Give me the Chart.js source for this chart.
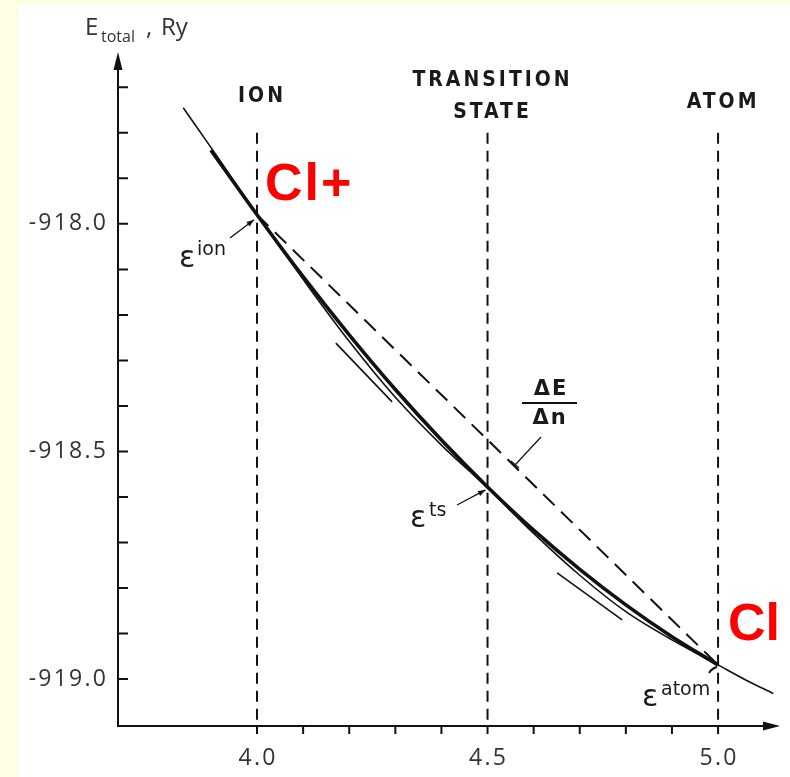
<!DOCTYPE html>
<html>
<head>
<meta charset="utf-8">
<script src="https://cdn.jsdelivr.net/npm/chart.js@4.4.1/dist/chart.umd.min.js"></script>
<style>
  html, body { margin: 0; padding: 0; background: #fefee4; }
  #wrap { width: 790px; height: 777px; }
</style>
</head>
<body>
<div id="wrap"><canvas id="grafico" width="790" height="777"></canvas></div>
<script>
// occupation number n (x) and total energy in Ry (y)
const nCurva = [3.84, 3.9, 4.0, 4.1, 4.2, 4.3, 4.4, 4.5, 4.6, 4.7, 4.8, 4.9, 5.0, 5.06, 5.12]
const eCurva = [-917.745, -917.832, -917.98, -918.122, -918.258, -918.381, -918.486, -918.58, -918.68, -918.772, -918.852, -918.914, -918.969, -919.002, -919.032]

const nGruesa = [3.9, 4.0, 4.1, 4.2, 4.3, 4.4, 4.5, 4.6, 4.7, 4.8, 4.9, 5.0]
const eGruesa = [-917.838, -917.98, -918.116, -918.244, -918.364, -918.475, -918.578, -918.673, -918.759, -918.837, -918.907, -918.969]

// chord from ion to atom (dashed)
const nCuerda = [4.0, 5.0]
const eCuerda = [-917.98, -918.969]

// short tangent strokes
const nTang1 = [4.171, 4.293]
const eTang1 = [-918.262, -918.391]
const nTang2 = [4.651, 4.792]
const eTang2 = [-918.767, -918.870]

// vertical markers: ion, transition state, atom
const nEstados = [4.0, 4.5, 5.0]
const estados = [['ION'], ['TRANSITION', 'STATE'], ['ATOM']]
const eTopeEstado = -917.80

// axis ticks
const xTicks = [4.0, 4.5, 5.0]
const xTickLabels = ['4.0', '4.5', '5.0']
const xMenores = [4.1, 4.2, 4.3, 4.4, 4.6, 4.7, 4.8, 4.9]
const yTicks = [-918.0, -918.5, -919.0]
const yTickLabels = ['-918.0', '-918.5', '-919.0']
const yMenores = [-917.7, -917.8, -917.9, -918.1, -918.2, -918.3, -918.4, -918.6, -918.7, -918.8, -918.9]

const NEGRO = '#111111'

function puntos(xs, ys) {
    return xs.map((x, i) => ({ x: x, y: ys[i] }))
}

let datasets = [
    { data: puntos(nCurva, eCurva), borderColor: NEGRO, borderWidth: 1.6, cubicInterpolationMode: 'monotone' },
    { data: puntos(nGruesa, eGruesa), borderColor: NEGRO, borderWidth: 3.6, cubicInterpolationMode: 'monotone' },
    { data: puntos(nCuerda, eCuerda), borderColor: NEGRO, borderWidth: 2, borderDash: [16, 9] },
    { data: puntos(nTang1, eTang1), borderColor: NEGRO, borderWidth: 1.6 },
    { data: puntos(nTang2, eTang2), borderColor: NEGRO, borderWidth: 1.6 }
]
nEstados.forEach(n => {
    datasets.push({
        data: [{ x: n, y: eTopeEstado }, { x: n, y: -919.101 }],
        borderColor: NEGRO, borderWidth: 2, borderDash: [11, 7]
    })
})

function flecha(ctx, x1, y1, x2, y2, tam) {
    ctx.beginPath()
    ctx.moveTo(x1, y1)
    ctx.lineTo(x2, y2)
    ctx.stroke()
    const a = Math.atan2(y2 - y1, x2 - x1)
    ctx.beginPath()
    ctx.moveTo(x2, y2)
    ctx.lineTo(x2 - tam * Math.cos(a - 0.35), y2 - tam * Math.sin(a - 0.35))
    ctx.lineTo(x2 - tam * Math.cos(a + 0.35), y2 - tam * Math.sin(a + 0.35))
    ctx.closePath()
    ctx.fill()
}

const fondo = {
    id: 'fondo',
    beforeDraw(chart) {
        const ctx = chart.ctx
        ctx.save()
        ctx.fillStyle = '#fefee4'
        ctx.fillRect(0, 0, chart.width, chart.height)
        ctx.fillStyle = '#ffffff'
        ctx.fillRect(19, 5, chart.width - 19, chart.height - 5)
        ctx.restore()
    }
}

const ejes = {
    id: 'ejes',
    afterDraw(chart) {
        const ctx = chart.ctx
        const xs = chart.scales.x
        const ys = chart.scales.y
        const a = chart.chartArea
        ctx.save()
        ctx.strokeStyle = NEGRO
        ctx.fillStyle = NEGRO
        ctx.lineWidth = 2

        // axes with arrows
        ctx.beginPath()
        ctx.moveTo(a.left, a.bottom + 1)
        ctx.lineTo(a.left, a.top + 10)
        ctx.moveTo(a.left - 1, a.bottom + 1)
        ctx.lineTo(a.right - 8, a.bottom + 1)
        ctx.stroke()
        ctx.beginPath()
        ctx.moveTo(a.left, a.top - 3)
        ctx.lineTo(a.left - 4.5, a.top + 15)
        ctx.lineTo(a.left + 4.5, a.top + 15)
        ctx.closePath()
        ctx.fill()
        ctx.beginPath()
        ctx.moveTo(a.right + 2, a.bottom + 1)
        ctx.lineTo(a.right - 15, a.bottom - 3.5)
        ctx.lineTo(a.right - 15, a.bottom + 5.5)
        ctx.closePath()
        ctx.fill()

        // ticks
        ctx.beginPath()
        xTicks.concat(xMenores).forEach(v => {
            const px = xs.getPixelForValue(v)
            ctx.moveTo(px, a.bottom + 1)
            ctx.lineTo(px, a.bottom + 9)
        })
        yTicks.concat(yMenores).forEach(v => {
            const py = ys.getPixelForValue(v)
            ctx.moveTo(a.left, py)
            ctx.lineTo(a.left + 10, py)
        })
        ctx.stroke()

        // tick labels
        ctx.fillStyle = '#333333'
        ctx.font = '23px "Open Sans"'
        ctx.letterSpacing = '2.2px'
        ctx.textBaseline = 'middle'
        ctx.textAlign = 'right'
        yTicks.forEach((v, i) => {
            ctx.fillText(yTickLabels[i], 108, ys.getPixelForValue(v))
        })
        ctx.textAlign = 'center'
        xTicks.forEach((v, i) => {
            ctx.fillText(xTickLabels[i], xs.getPixelForValue(v) + 1, 758)
        })

        // axis title E_total , Ry
        ctx.letterSpacing = '0px'
        ctx.textAlign = 'left'
        ctx.textBaseline = 'alphabetic'
        ctx.font = '24px "Open Sans"'
        ctx.fillText('E', 85, 35)
        ctx.font = '16px "Open Sans"'
        ctx.fillText('total', 101, 42)
        ctx.font = '24px "Open Sans"'
        ctx.fillText(',', 146, 35)
        ctx.fillText('Ry', 161, 35)

        // state captions
        ctx.fillStyle = '#1a1a1a'
        ctx.font = 'bold 21px "DejaVu Sans Condensed", "DejaVu Sans"'
        ctx.letterSpacing = '3px'
        ctx.textAlign = 'center'
        ctx.textBaseline = 'middle'
        const yCap = [[97], [81, 113], [103]]
        nEstados.forEach((n, i) => {
            estados[i].forEach((t, j) => {
                ctx.fillText(t, xs.getPixelForValue(n) + 5, yCap[i][j])
            })
        })

        // dE/dn fraction
        ctx.font = 'bold 21px "DejaVu Sans"'
        ctx.letterSpacing = '2px'
        ctx.fillText('\u0394E', 551, 390)
        ctx.fillText('\u0394n', 550, 419)
        ctx.lineWidth = 2
        ctx.beginPath()
        ctx.moveTo(522, 403)
        ctx.lineTo(577, 403)
        ctx.stroke()
        ctx.lineWidth = 1.2
        ctx.beginPath()
        ctx.moveTo(541, 437)
        ctx.lineTo(515, 465)
        ctx.moveTo(511, 461)
        ctx.lineTo(519, 468)
        ctx.stroke()

        // epsilon labels
        ctx.letterSpacing = '0px'
        ctx.textAlign = 'left'
        ctx.textBaseline = 'alphabetic'
        const eps = [
            { sup: 'ion', x: 179, y: 267, sx: 197, sy: 255 },
            { sup: 'ts', x: 410, y: 527, sx: 429, sy: 516 },
            { sup: 'atom', x: 642, y: 706, sx: 661, sy: 695 }
        ]
        eps.forEach(e => {
            ctx.font = '30px "DejaVu Sans"'
            ctx.fillText('\u03b5', e.x, e.y)
            ctx.font = '19px "DejaVu Sans"'
            ctx.fillText(e.sup, e.sx, e.sy)
        })
        ctx.fillStyle = NEGRO
        ctx.lineWidth = 1.3
        flecha(ctx, 230, 238, xs.getPixelForValue(4.0) - 3, ys.getPixelForValue(-917.98) + 5, 8)
        flecha(ctx, 457, 505, xs.getPixelForValue(4.5) - 2, ys.getPixelForValue(-918.578) + 3, 8)
        ctx.lineWidth = 2
        ctx.beginPath()
        ctx.moveTo(709, 673)
        ctx.quadraticCurveTo(712, 668, xs.getPixelForValue(5.0) - 1, ys.getPixelForValue(-918.969) + 2)
        ctx.stroke()

        // red species labels
        ctx.fillStyle = '#ff0000'
        ctx.font = 'bold 52px "Liberation Sans"'
        ctx.letterSpacing = '2px'
        ctx.fillText('Cl+', 265, 200)
        ctx.letterSpacing = '0px'
        ctx.fillText('Cl', 728, 640)
        ctx.restore()
    }
}

new Chart(document.getElementById('grafico'), {
    type: 'line',
    data: { datasets: datasets },
    options: {
        responsive: false,
        animation: false,
        devicePixelRatio: 1,
        layout: { padding: { left: 118, right: 12, top: 55, bottom: 52 } },
        elements: { point: { radius: 0 }, line: { fill: false } },
        plugins: { legend: { display: false }, tooltip: { enabled: false } },
        scales: {
            x: { type: 'linear', display: false, min: 3.6985, max: 5.130 },
            y: { type: 'linear', display: false, min: -919.101, max: -917.629 }
        }
    },
    plugins: [fondo, ejes]
})
</script>
</body>
</html>
